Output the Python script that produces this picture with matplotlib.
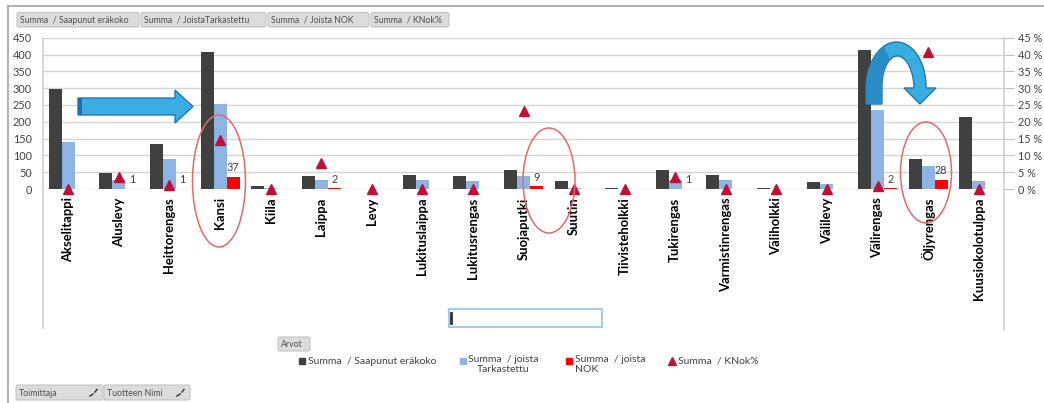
import numpy as np
import matplotlib
matplotlib.use("Agg")
import matplotlib.pyplot as plt
from matplotlib.patches import FancyBboxPatch, Ellipse, Polygon, Rectangle
from matplotlib.lines import Line2D

plt.rcParams['font.family'] = ['Lato', 'DejaVu Sans']

# ---- data ---------------------------------------------------------------
categories = ["Akselitappi", "Aluslevy", "Heittorengas", "Kansi", "Kiila", "Laippa",
              "Levy", "Lukituslaippa", "Lukitusrengas", "Suojaputki", "Suutin",
              "Tiivisteholkki", "Tukirengas", "Varmistinrengas", "Väliholkki",
              "Välilevy", "Välirengas", "Öljyrengas", "Kuusiokolotulppa"]
saapunut = [298, 47, 133, 407, 8, 40, 0, 43, 38, 56, 23, 3, 57, 43, 2, 22, 413, 90, 215]
tarkastettu = [140, 27, 89, 252, 4, 26, 0, 27, 24, 39, 2, 0, 27, 27, 0, 14, 235, 69, 24]
nok = [0, 1, 1, 37, 0, 2, 0, 0, 0, 9, 0, 0, 1, 0, 0, 0, 2, 28, 0]
knok_pct = [0, 3.7, 1.1, 14.7, 0, 7.7, 0, 0, 0, 23.1, 0, 0, 3.7, 0, 0, 0, 0.9, 40.6, 0]
left_ticks = list(range(0, 451, 50))
right_ticks = list(range(0, 46, 5))

series_names = ["Summa  / Saapunut eräkoko", "Summa  / joista\nTarkastettu",
                "Summa  / joista\nNOK", "Summa  / KNok%"]
field_buttons = ["Summa  / Saapunut eräkoko", "Summa  / JoistaTarkastettu",
                 "Summa  / Joista NOK", "Summa  / KNok%"]

C_DARK = '#404040'
C_LIGHT = '#8db4e2'
C_RED = '#ff0000'
C_TRI = '#c0103a'
C_TEXT = '#404040'
C_GRID = '#d4d4d4'

W, H = 1044, 403
fig = plt.figure(figsize=(W / 100, H / 100), dpi=100)
fig.patch.set_facecolor('white')

# plot area in pixel terms
px_l, px_r, px_t, px_b = 43, 1004, 37.7, 189
ax = fig.add_axes([px_l / W, 1 - px_b / H, (px_r - px_l) / W, (px_b - px_t) / H])
x = np.arange(len(categories))
bw = 0.257
ax.bar(x - bw, saapunut, bw, color=C_DARK, zorder=2)
ax.bar(x, tarkastettu, bw, color=C_LIGHT, zorder=2)
ax.bar(x + bw, nok, bw, color=C_RED, zorder=2)
for xi, v in zip(x, nok):
    if v:
        ax.annotate(str(v), (xi + bw, v), xytext=(0, 2.5), textcoords='offset points',
                    ha='center', va='bottom', fontsize=7.8, color=C_TEXT)
ax.set_xlim(-0.5, len(categories) - 0.5)
ax.set_ylim(0, 450)
ax.set_yticks(left_ticks)
ax.set_yticklabels([str(t) for t in left_ticks], fontsize=7.8, color=C_TEXT)
ax.set_xticks(x)
ax.set_xticklabels(categories, rotation=90, fontsize=9.4, fontweight='bold', color='black')
ax.tick_params(axis='x', length=0, pad=6)
ax.tick_params(axis='y', length=0, pad=8)
ax.yaxis.grid(True, color=C_GRID, lw=1.0, zorder=0)
ax.set_axisbelow(True)
for s in ax.spines.values():
    s.set_visible(False)

ax2 = ax.twinx()
ax2.set_ylim(0, 0.45)
ax2.plot(x, np.array(knok_pct) / 100, linestyle='none', marker='^', markersize=7.2,
         color=C_TRI, clip_on=False, zorder=4)
ax2.set_yticks([t / 100 for t in right_ticks])
ax2.set_yticklabels([f"{t} %" for t in right_ticks], fontsize=7.8, color=C_TEXT)
ax2.tick_params(axis='y', direction='out', length=7, width=0.8, color='#bfbfbf', pad=3)
for s in ax2.spines.values():
    s.set_visible(False)

# ---- overlay for frame, buttons, legend and callouts ---------------------
ov = fig.add_axes([0, 0, 1, 1], zorder=10)
ov.set_xlim(0, W)
ov.set_ylim(H, 0)
ov.axis('off')
ov.patch.set_alpha(0)

# outer frame and plot-area side lines
ov.add_line(Line2D([7.5, W], [6, 6], color='#a6a6a6', lw=1.2))
ov.add_line(Line2D([7.5, 7.5], [6, H], color='#a6a6a6', lw=1.2))
ov.add_line(Line2D([px_l, px_l], [px_t, 328], color='#d0d0d0', lw=1.2))
ov.add_line(Line2D([px_r, px_r], [px_t, 330], color='#d0d0d0', lw=1.2))


def button(x0, x1, y0, y1, label, fs=6.3, icon=False):
    ov.add_patch(FancyBboxPatch((x0, y0), x1 - x0, y1 - y0,
                                boxstyle='round,pad=0,rounding_size=2',
                                fc='#dcdcdc', ec='#c4c4c4', lw=0.8))
    ov.text(x0 + 3, (y0 + y1) / 2 + 0.5, label, fontsize=fs, color='#505050',
            ha='left', va='center')
    if icon:
        ov.plot([x1 - 13, x1 - 10], [y1 - 4, y1 - 6], color='#404040', lw=1.1)
        ov.plot([x1 - 8, x1 - 6], [y1 - 8, y1 - 10.5], color='#404040', lw=1.1)


tops = [(17, 139), (141, 266), (268, 369), (371, 449)]
for (a, b), lab in zip(tops, field_buttons):
    button(a, b, 12.5, 27, lab)
button(278, 310, 337, 351, "Arvot", fs=6.3)
button(16, 103, 385, 400, "Toimittaja", icon=True)
button(104, 190, 385, 400, "Tuotteen Nimi", icon=True)

# empty text box
ov.add_patch(Rectangle((449, 309), 153, 18, fc='white', ec='#a8cbe8', lw=1.6))
ov.add_line(Line2D([451, 451], [313, 323], color='#303030', lw=2))

# legend
ly = 361
ov.plot([302], [ly], marker='s', ms=5, color=C_DARK, ls='none')
ov.text(308, ly, series_names[0], fontsize=7.5, color=C_TEXT, va='center')
ov.plot([463], [ly], marker='s', ms=5, color=C_LIGHT, ls='none')
ov.text(468, ly - 6, series_names[1], fontsize=7.5, color=C_TEXT, va='top',
        multialignment='center', linespacing=1.15)
ov.plot([569], [ly], marker='s', ms=5, color=C_RED, ls='none')
ov.text(575, ly - 6, series_names[2], fontsize=7.5, color=C_TEXT, va='top',
        multialignment='left', linespacing=1.15)
ov.plot([672], [ly], marker='^', ms=5.5, color=C_TRI, ls='none')
ov.text(678, ly, series_names[3], fontsize=7.5, color=C_TEXT, va='center')

# callout: straight block arrow
ov.add_patch(Polygon([(78, 98), (175, 98), (175, 90), (193, 106.5), (175, 123),
                      (175, 115), (78, 115)], closed=True, fc='#3aaee2',
                     ec='#2179b5', lw=1.0))
ov.add_patch(Rectangle((78, 98), 4, 17, fc='#1f6fb0', ec='none'))

# callout: curved (U-turn) arrow built from a half ellipse band
acx, acy, arx, ary = 897, 88, 23, 39
th = np.linspace(np.pi, 0, 60)
thick = 16 - 4 * (np.pi - th) / np.pi
outer = np.column_stack([acx + (arx + thick / 2) * np.cos(th),
                         acy - (ary + thick / 2) * np.sin(th)])
inner = np.column_stack([acx + (arx - thick / 2) * np.cos(th),
                         acy - (ary - thick / 2) * np.sin(th)])
tip_x = acx + arx
head = np.array([[tip_x + 16, acy], [tip_x, acy + 16], [tip_x - 16, acy]])
band = np.vstack([[[acx - arx - 8, 104]], outer, head, inner[::-1],
                  [[acx - arx + 8, 104]]])
ov.add_patch(Polygon(band, closed=True, fc='#38aee0', ec='#1f78b0', lw=1.0, zorder=3))
k = 22
shade = np.vstack([[[acx - arx - 8, 104]], outer[:k], inner[:k][::-1],
                   [[acx - arx + 8, 104]]])
ov.add_patch(Polygon(shade, closed=True, fc='#2a8cc6', ec='none', zorder=3.5))

# callout ellipses
for cx, cy, ew, eh in [(219, 181, 53, 132), (549, 180.5, 52, 105), (926, 172.5, 51, 101)]:
    ov.add_patch(Ellipse((cx, cy), ew, eh, fill=False, ec='#e06a6a', lw=1.1))

fig.savefig('out.png', dpi=100, facecolor='white')
